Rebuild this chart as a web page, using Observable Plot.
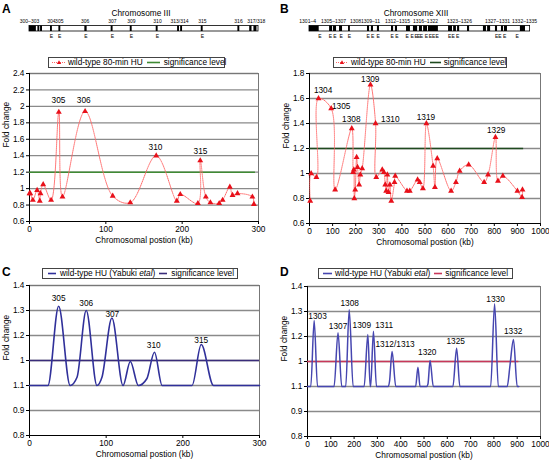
<!DOCTYPE html>
<html><head><meta charset="utf-8">
<script src="https://cdn.jsdelivr.net/npm/d3@7"></script>
<script src="https://cdn.jsdelivr.net/npm/@observablehq/plot@0.6"></script>
<style>
body{margin:0;background:#fff;font-family:"Liberation Sans",Arial,sans-serif;}
#root{position:relative;width:549px;height:463px;overflow:hidden;background:#fff;}
.letter{position:absolute;font-weight:bold;font-size:12px;line-height:12px;}
.legend{position:absolute;box-sizing:border-box;border:1px solid #444;height:11px;font-size:8.3px;line-height:9px;white-space:nowrap;background:#fff;display:flex;align-items:center;}
.legend svg{display:block;}
.legend span{display:block;}
</style></head><body><div id="root"></div>
<script>
// ---------- Panel A : Chromosome III, wild-type 80-min HU ----------
const aPos  = [0,1,4.4,10,13.5,14.4,17.9,28.3,38.4,43.2,72.8,109,132,166,193,197.5,220.6,223.7,231,237,248.5,253,262.5,266,272.5,292,294];
const aFold = [0.94,0.94,0.86,0.98,0.85,0.94,1.05,0.86,1.93,0.90,1.94,0.91,0.83,1.40,0.85,0.93,0.82,1.34,0.90,0.83,0.82,0.86,1.02,0.92,0.94,0.90,0.81];
const aLabelText = ["305","306","310","315"];
const aLabelPos  = [38,71,165,224];
const aLabelFold = [2.07,2.07,1.505,1.457];
const aSigLevel = 1.2, aSigEnd = 296;
const aYTicks = [0.6,0.8,1.0,1.2,1.4,1.6,1.8,2.0,2.2,2.4];
const aYLabels = ["0.6","0.8","1","1.2","1.4","1.6","1.8","2","2.2","2.4"];
const acXTicks = [0,100,200,300];

// Chromosome III map
const aBlockStart = [0,11,14.5,27.5,38.5,72.5,107,132,166,194,198,225,273,288.5,294];
const aBlockEnd   = [9,13.5,17,30,41,75.5,109.5,134.5,168.5,196.5,200.5,227.5,275.5,291.5,298];
const aBarEnd = 300;
const aNames   = ["300–303","304","305","306","307","309","310","313/314","315","316","317/318"];
const aNamePos = [0,28.6,39,73,108.7,133.6,167.7,196.5,226.6,273.8,297];
const aEPos    = [28.6,39.5,74,108.5,133.5,167.5,226.5];

// ---------- Panel B : Chromosome XIII, wild-type 80-min HU ----------
const bPos  = [3,7,30,39,94,111,183,189,192,194,198,204,208,215,220,228,264,286,289,315,322,328,332,337,342,348,354,368,371,422,434,468,477,491,506,535,543,553,613,634,650,689,756,773,805,816,837,900,920,922];
const bFold = [0.78,1.00,0.97,1.60,1.52,0.87,1.36,1.01,1.03,0.80,0.87,1.13,1.05,0.91,0.99,1.04,1.71,1.40,0.97,1.03,1.01,0.91,0.86,0.99,0.85,0.91,0.78,0.93,0.98,0.86,0.86,0.95,0.93,0.88,1.40,1.06,0.89,1.12,0.86,0.93,1.02,1.07,0.93,0.99,1.29,0.94,0.98,0.86,0.81,0.87];
const bLabelText = ["1304","1305","1308","1309","1310","1319","1329"];
const bLabelPos  = [59,137,181,263,350,504,808];
const bLabelFold = [1.667,1.536,1.434,1.755,1.434,1.453,1.345];
const bSigLevel = 1.2, bSigEnd = 927;
const bYTicks = [0.6,0.8,1.0,1.2,1.4,1.6,1.8];
const bYLabels = ["0.6","0.8","1","1.2","1.4","1.6","1.8"];
const bdXTicks = [0,100,200,300,400,500,600,700,800,900,1000];

// Chromosome XIII map
const bBlockStart = [0,87,104,130,169,251,268,294,355,372,420,450,476,494,515,602,624,641,684,753,771,805,831,844,913];
const bBlockEnd   = [42,100,117,143,177,260,277,303,364,381,437,468,489,511,558,619,636,650,693,766,784,814,840,857,935];
const bBarEnd = 955;
const bNames   = ["1301–4","1305–1307","1308","1309–11","1312–1315","1316–1322","1323–1326","1327–1331","1332–1335"];
const bNamePos = [-8,104,199,264,381,502,649,814,931];
const bEPos    = [45,91,110,137,173,254,273,297,358,378,423,445,462,473,485,506,524,538,553,607,622,641,810,824,845,899];

// ---------- Panel C : Chromosome III, wild-type HU (Yabuki et al) ----------
const cPos  = [0,24,38,53,62,74,88,94.5,107.5,122,131.5,142,153,163,173,212,224,240,300];
const cFold = [1,1,1.317,1,1.033,1.30,1,1.033,1.27,1,1.096,1,1.027,1.133,1,1,1.164,1,1];
const cLabelText = ["305","306","307","310","315"];
const cLabelPos  = [38,74,108,162,224];
const cLabelFold = [1.349,1.329,1.284,1.16,1.18];
const cSigLevel = 1.1, cSigEnd = 300;

// ---------- Panel D : Chromosome XIII, wild-type HU (Yabuki et al) ----------
const dPos  = [0,14,28.6,43,114,131,147,164,179,196,243,259,269,271,283,296,347,352,363,379,464,474,483,511,517,526,540,624,640,654,786,803,819,857,869,884,900,907];
const dFold = [1,1,1.264,1,1,1.215,1,1,1.307,1,1,1.208,1,1,1.221,1,1,1.02,1.14,1,1,1.077,1,1,1.01,1.104,1,1,1.153,1,1,1.331,1,1,1.084,1.188,1,1];
const dLabelText = ["1303","1307","1308","1309","1311","1312/1313","1320","1325","1330","1332"];
const dLabelPos  = [43,131,181,233,329,376,514,636,807,883];
const dLabelFold = [1.281,1.24,1.331,1.244,1.244,1.169,1.137,1.18,1.348,1.221];
const dSigLevel = 1.1, dSigEnd = 907;

// C/D y ticks (labels as printed in the original figure)
const cdYTicks = [0.8,0.9,1.0,1.1,1.2,1.3,1.4];
const cdYLabels = ["0.8","0.9","1.1","1","1.2","1.3","1.4"];

const FONT = '"Liberation Sans", Arial, sans-serif';
const FS = 8.3;
const root = document.getElementById("root");

function place(node, left, top) {
  node.style.position = "absolute";
  node.style.left = left + "px";
  node.style.top = top + "px";
  root.appendChild(node);
}

function panel(o) {
  const fmt = d => { const i = o.yTicks.findIndex(v => Math.abs(v - d) < 1e-6); return i >= 0 ? o.yLabels[i] : ""; };
  const p = Plot.plot({
    width: o.width, height: o.height,
    marginLeft: o.mL, marginRight: o.mR, marginTop: o.mT, marginBottom: o.mB,
    style: {fontSize: FS + "px", fontFamily: FONT, background: "white", color: "black", overflow: "visible"},
    x: {domain: o.xDomain},
    y: {domain: o.yDomain},
    marks: [
      Plot.ruleY(o.yTicks.slice(1), {stroke: "#8a8a8a", strokeWidth: 1.3}),
      Plot.frame({stroke: "#777", strokeWidth: 1}),
      Plot.ruleX([o.xDomain[0]], {stroke: "#000"}),
      Plot.ruleY([o.yDomain[0]], {stroke: "#000"}),
      Plot.axisX({ticks: o.xTicks, tickSize: 3, tickPadding: 2, label: null, tickFormat: d => String(d)}),
      Plot.axisY({ticks: o.yTicks, tickSize: 3, tickPadding: 2, label: null, tickFormat: fmt}),
      Plot.text(["Fold change"], {frameAnchor: "left", rotate: -90, dx: -23, text: d => d, fontSize: FS}),
      Plot.text(["Chromosomal postion (kb)"], {frameAnchor: "bottom", dy: 21, text: d => d, fontSize: FS}),
      ...o.marks
    ]
  });
  place(p, o.left, o.top);
}

function chromMap(o) {
  const p = Plot.plot({
    width: o.width, height: 40,
    marginLeft: o.mL, marginRight: o.mR, marginTop: 0, marginBottom: 0,
    style: {fontFamily: FONT, background: "white", color: "black", overflow: "visible"},
    x: {domain: o.xDomain, axis: null},
    y: {domain: [0, 40], range: [0, 40], axis: null},
    marks: [
      Plot.text([o.title], {frameAnchor: "top", dy: 10, dx: o.titleDx, text: d => d, fontSize: FS}),
      Plot.text(o.names, {x: o.namePos, y: 20.5, text: d => d, fontSize: 5}),
      Plot.rect([o.barEnd], {x1: 0, x2: d => d, y1: 25.5, y2: 31, fill: "white", stroke: "black", strokeWidth: 0.8}),
      Plot.rect(o.blockStart, {x1: o.blockStart, x2: o.blockEnd, y1: 25.5, y2: 31, fill: "black"}),
      Plot.text(o.ePos, {x: d => d, y: 35.5, text: () => "E", fontSize: 5})
    ]
  });
  place(p, o.left, 0);
}

function legend(left, top, width, items) {
  const div = document.createElement("div");
  div.className = "legend";
  div.style.left = left + "px"; div.style.top = top + "px"; div.style.width = width + "px";
  items.forEach(it => {
    const wrap = document.createElement("div");
    wrap.style.display = "flex"; wrap.style.alignItems = "center";
    wrap.style.marginLeft = it.gap + "px";
    wrap.innerHTML = it.swatch + `<span style="margin-left:${it.tgap}px">${it.text}</span>`;
    div.appendChild(wrap);
  });
  root.appendChild(div);
}
function lineSw(w, color, dashed, tri) {
  return `<svg width="${w}" height="9"><line x1="0" x2="${w}" y1="4.5" y2="4.5" stroke="${color}" stroke-width="${dashed ? 1 : 1.6}" ${dashed ? 'stroke-dasharray="1 1"' : ''}/>` +
    (tri ? `<path d="M${w/2},2.2L${w/2+2.2},6L${w/2-2.2},6Z" fill="#e8101a"/>` : "") + `</svg>`;
}
function letter(t, left, top) {
  const d = document.createElement("div"); d.className = "letter"; d.textContent = t;
  d.style.left = left + "px"; d.style.top = top + "px"; root.appendChild(d);
}

const redLine = "#ff6a6a", redPt = "#e8101a";

// A map + panel
chromMap({left: 0, width: 275, mL: 29, mR: 17, xDomain: [0, 300], title: "Chromosome III", titleDx: -3,
  names: aNames, namePos: aNamePos, barEnd: aBarEnd, blockStart: aBlockStart, blockEnd: aBlockEnd, ePos: aEPos});
panel({left: 0, top: 66, width: 275, height: 189, mL: 29, mR: 17, mT: 7, mB: 34,
  xDomain: [0, 300], xTicks: acXTicks, yDomain: [0.6, 2.4], yTicks: aYTicks, yLabels: aYLabels,
  marks: [
    Plot.ruleY([aSigLevel], {x1: 0, x2: aSigEnd, stroke: "#3f8a34", strokeWidth: 1.5}),
    Plot.line(aPos, {x: aPos, y: aFold, curve: "catmull-rom", stroke: redLine, strokeWidth: 1, strokeDasharray: "1 1"}),
    Plot.dot(aPos, {x: aPos, y: aFold, symbol: "triangle", r: 2.2, fill: redPt, stroke: "none"}),
    Plot.text(aLabelText, {x: aLabelPos, y: aLabelFold, text: d => d, fontSize: FS})
  ]});

// B map + panel
chromMap({left: 275, width: 274, mL: 34, mR: 9, xDomain: [0, 1000], title: "Chromosome XIII", titleDx: -9,
  names: bNames, namePos: bNamePos, barEnd: bBarEnd, blockStart: bBlockStart, blockEnd: bBlockEnd, ePos: bEPos});
panel({left: 275, top: 66, width: 274, height: 189, mL: 34, mR: 9, mT: 7, mB: 32,
  xDomain: [0, 1000], xTicks: bdXTicks, yDomain: [0.6, 1.8], yTicks: bYTicks, yLabels: bYLabels,
  marks: [
    Plot.ruleY([bSigLevel], {x1: 0, x2: bSigEnd, stroke: "#1f4a1f", strokeWidth: 1.5}),
    Plot.line(bPos, {x: bPos, y: bFold, curve: "catmull-rom", stroke: redLine, strokeWidth: 1, strokeDasharray: "1 1"}),
    Plot.dot(bPos, {x: bPos, y: bFold, symbol: "triangle", r: 2.2, fill: redPt, stroke: "none"}),
    Plot.text(bLabelText, {x: bLabelPos, y: bLabelFold, text: d => d, fontSize: FS})
  ]});

// C panel
panel({left: 0, top: 279, width: 275, height: 184, mL: 29, mR: 16, mT: 6, mB: 28,
  xDomain: [0, 300], xTicks: acXTicks, yDomain: [0.8, 1.4], yTicks: cdYTicks, yLabels: cdYLabels,
  marks: [
    Plot.ruleY([cSigLevel], {x1: 0, x2: cSigEnd, stroke: "#3a2c7a", strokeWidth: 1.5}),
    Plot.line(cPos, {x: cPos, y: cFold, curve: "monotone-x", stroke: "#30309a", strokeWidth: 1.6}),
    Plot.text(cLabelText, {x: cLabelPos, y: cLabelFold, text: d => d, fontSize: FS})
  ]});

// D panel
panel({left: 275, top: 279, width: 274, height: 184, mL: 32, mR: 9, mT: 7, mB: 27,
  xDomain: [0, 1000], xTicks: bdXTicks, yDomain: [0.8, 1.4], yTicks: cdYTicks, yLabels: cdYLabels,
  marks: [
    Plot.ruleY([dSigLevel], {x1: 0, x2: dSigEnd, stroke: "#c8385a", strokeWidth: 1.3}),
    Plot.line(dPos, {x: dPos, y: dFold, curve: "monotone-x", stroke: "#4646b0", strokeWidth: 1.5}),
    Plot.text(dLabelText, {x: dLabelPos, y: dLabelFold, text: d => d, fontSize: FS})
  ]});

// Legends
legend(48, 57, 177, [
  {gap: 3, swatch: lineSw(14, redLine, true, true), tgap: 2, text: "wild-type 80-min HU"},
  {gap: 4, swatch: lineSw(13, "#3f8a34", false, false), tgap: 4, text: "significance level"}
]);
legend(333, 57, 174, [
  {gap: 2, swatch: lineSw(12, redLine, true, true), tgap: 3, text: "wild-type 80-min HU"},
  {gap: 4, swatch: lineSw(11, "#1f4a1f", false, false), tgap: 3, text: "significance level"}
]);
legend(42, 268, 196, [
  {gap: 5, swatch: lineSw(8, "#30309a", false, false), tgap: 4, text: "wild-type HU (Yabuki <i>etal</i>)"},
  {gap: 4, swatch: lineSw(8, "#3a2c7a", false, false), tgap: 4, text: "significance level"}
]);
legend(318, 268, 195, [
  {gap: 4, swatch: lineSw(9, "#4646b0", false, false), tgap: 3, text: "wild-type HU (Yabuki <i>etal</i>)"},
  {gap: 4, swatch: lineSw(8, "#c8385a", false, false), tgap: 3, text: "significance level"}
]);

letter("A", 2, 3);
letter("B", 280, 3);
letter("C", 2, 266);
letter("D", 280, 266);
</script></body></html>
